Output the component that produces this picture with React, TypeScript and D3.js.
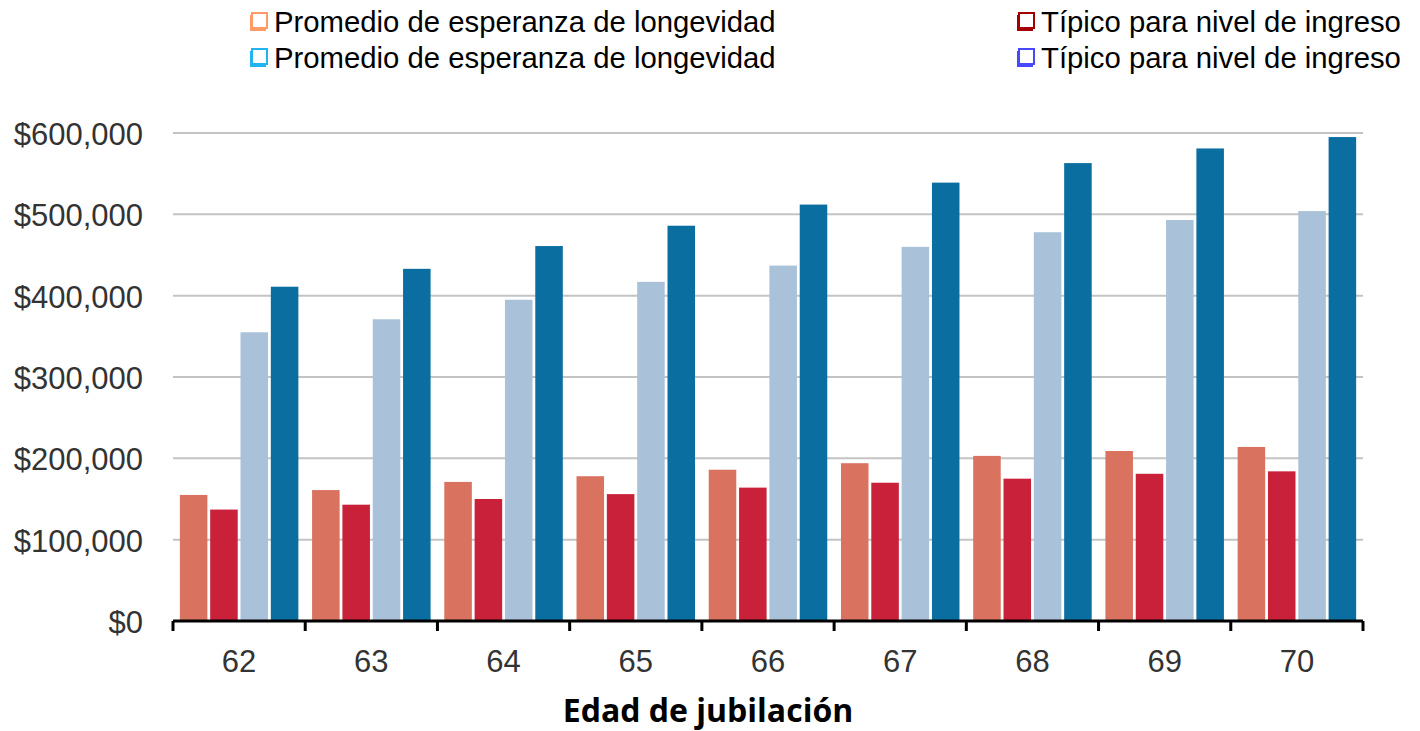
import React from "react";
import * as d3 from "d3";

const categories = ["62", "63", "64", "65", "66", "67", "68", "69", "70"];
const seriesKeys = ["promedioA", "tipicoA", "promedioB", "tipicoB"];
const promedioA = [155000, 161000, 171000, 178000, 186000, 194000, 203000, 209000, 214000];
const tipicoA = [137000, 143000, 150000, 156000, 164000, 170000, 175000, 181000, 184000];
const promedioB = [355000, 371000, 395000, 417000, 437000, 460000, 478000, 493000, 504000];
const tipicoB = [411000, 433000, 461000, 486000, 512000, 539000, 563000, 581000, 595000];
const barColors = ["#D9725F", "#C92139", "#A9C2D9", "#0A6FA0"];
const yTicks = [0, 100000, 200000, 300000, 400000, 500000, 600000];
const legendLabels = [
  "Promedio de esperanza de longevidad",
  "Típico para nivel de ingreso",
  "Promedio de esperanza de longevidad",
  "Típico para nivel de ingreso",
];
const legendColors = ["#FF9966", "#A50000", "#22B4EE", "#4848FF"];
const xTitle = "Edad de jubilación";

const W = 1420;
const H = 731;
const left = 173;
const right = 1363;
const top = 133;
const bottom = 621;

export default function App() {
  const seriesValues = [promedioA, tipicoA, promedioB, tipicoB];
  const x0 = d3.scaleBand<string>().domain(categories).range([left, right]).paddingInner(0).paddingOuter(0);
  const x1 = d3
    .scaleBand<string>()
    .domain(seriesKeys)
    .range([0, x0.bandwidth()])
    .paddingInner(0.092)
    .paddingOuter(0.226);
  const y = d3.scaleLinear().domain([0, 600000]).range([bottom, top]);
  const fmt = (v: number) => "$" + d3.format(",")(v);
  const boundaries = d3.range(categories.length + 1).map((i) => left + i * x0.step());

  const legendPos = [
    { x: 252, y: 32 },
    { x: 1019, y: 32 },
    { x: 252, y: 68 },
    { x: 1019, y: 68 },
  ];

  return (
    <svg
      width={W}
      height={H}
      style={{ position: "absolute", left: 0, top: 0, display: "block", background: "#fff" }}
    >
      {/* gridlines */}
      {yTicks.slice(1).map((t) => (
        <line key={t} x1={left} x2={right} y1={y(t)} y2={y(t)} stroke="#c4c4c4" strokeWidth={2} />
      ))}
      {/* y labels */}
      {yTicks.map((t) => (
        <text
          key={t}
          x={143}
          y={y(t) + 12}
          textAnchor="end"
          fontFamily="'Liberation Sans', Arial, sans-serif"
          fontSize={31}
          fill="#333"
        >
          {fmt(t)}
        </text>
      ))}
      {/* bars */}
      {categories.map((c, i) => (
        <g key={c} transform={`translate(${x0(c)},0)`}>
          {seriesKeys.map((k, j) => {
            const v = seriesValues[j][i];
            return (
              <rect
                key={k}
                x={x1(k)}
                y={y(v)}
                width={x1.bandwidth()}
                height={y(0) - y(v)}
                fill={barColors[j]}
              />
            );
          })}
        </g>
      ))}
      {/* x axis */}
      <line x1={left} x2={right} y1={bottom} y2={bottom} stroke="#000" strokeWidth={3} />
      {boundaries.map((bx, i) => (
        <line key={i} x1={bx} x2={bx} y1={bottom} y2={bottom + 10} stroke="#000" strokeWidth={3} />
      ))}
      {categories.map((c) => (
        <text
          key={c}
          x={(x0(c) as number) + x0.bandwidth() / 2}
          y={672}
          textAnchor="middle"
          fontFamily="'Liberation Sans', Arial, sans-serif"
          fontSize={31}
          fill="#333"
        >
          {c}
        </text>
      ))}
      <text
        x={708}
        y={722}
        textAnchor="middle"
        fontFamily="'Open Sans', sans-serif"
        fontWeight="bold"
        fontSize={32}
        fill="#000"
      >
        {xTitle}
      </text>
      {/* legend */}
      {legendLabels.map((lab, i) => {
        const p = legendPos[i];
        return (
          <g key={i} transform={`translate(${p.x},${p.y})`}>
            <rect x={-2} y={-17} width={16} height={16} fill={legendColors[i]} />
            <rect x={0} y={-19} width={15} height={15} fill="#fff" stroke={legendColors[i]} strokeWidth={2} />
            <text
              x={22}
              y={0}
              fontFamily="'Liberation Sans', Arial, sans-serif"
              fontSize={29.3}
              fill="#000"
            >
              {lab}
            </text>
          </g>
        );
      })}
    </svg>
  );
}
